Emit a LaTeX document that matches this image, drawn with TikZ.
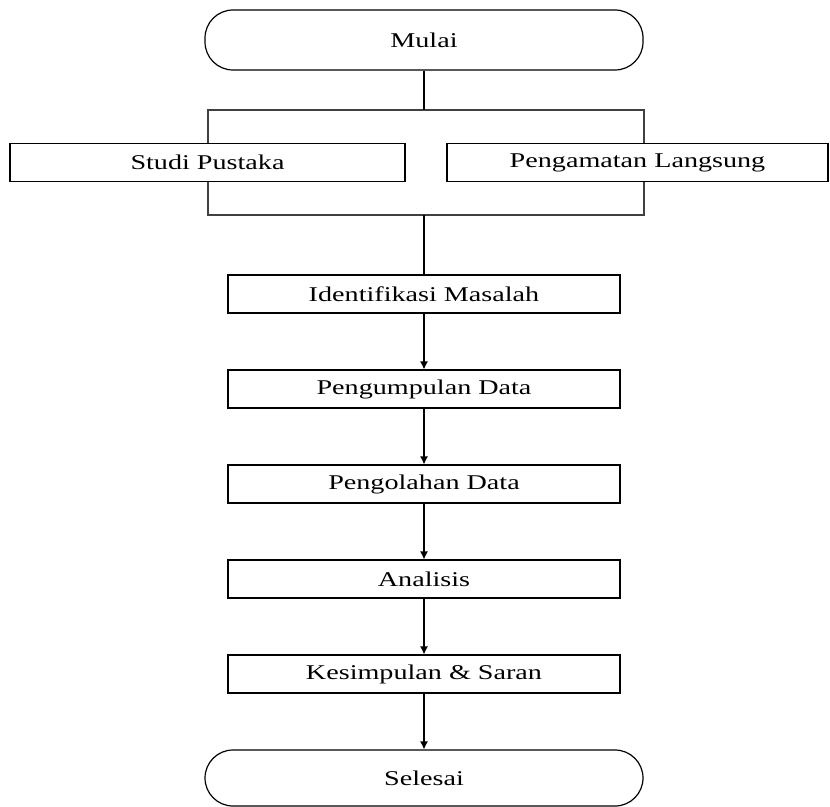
\documentclass[tikz,border=0pt]{standalone}
\usepackage{fontspec}
\setmainfont{Liberation Serif}
\usepackage{graphicx}
\usetikzlibrary{positioning,
                arrows.meta}                % arrow tips

\newcommand{\wide}[1]{\scalebox{1.34}[1]{#1}}

\tikzset{
    langkah/.style={draw, fill=white, line width=0.9pt, minimum height=28.5pt,
                    inner sep=0pt, font=\fontsize{15.75pt}{18pt}\selectfont},
    terminal/.style={langkah, rounded corners=21pt, minimum width=328.5pt},
    alur/.style={line width=0.9pt, -{Latex[length=6pt, width=6pt]}}
}

\begin{document}
\begin{tikzpicture}[x=0.75pt, y=-0.75pt]
        \useasboundingbox (0,0) rectangle (830,806);

        \node[terminal, minimum height=45pt] (mulai) at (424,40) {\wide{Mulai}};

        % bingkai studi pendahuluan
        \coordinate (fnw) at (208,110);
        \coordinate (fse) at (644,215);
        \draw[black!75, line width=0.9pt] (fnw) rectangle (fse);
        \coordinate (ftop) at (424,110);
        \coordinate (fbot) at (424,215);

        \node[langkah, minimum width=296.25pt] (studi) at (207.5,162.5) {\wide{Studi Pustaka}};
        \node[langkah, minimum width=285.75pt] (amati) at (637.5,162.5) {\wide{Pengamatan Langsung}};

        \node[langkah, minimum width=294pt] (ident) at (424,294) {\wide{Identifikasi Masalah}};
        \node[langkah, minimum width=294pt] (kumpul) at (424,389) {\wide{Pengumpulan Data}};
        \node[langkah, minimum width=294pt] (olah) at (424,484) {\wide{Pengolahan Data}};
        \node[langkah, minimum width=294pt] (analisis) at (424,579) {\wide{Analisis}};
        \node[langkah, minimum width=294pt] (simpul) at (424,674) {\wide{Kesimpulan \& Saran}};

        \node[terminal, minimum height=42pt] (selesai) at (424,778) {\wide{Selesai}};

        \draw[line width=0.9pt] (mulai) -- (ftop);
        \draw[line width=0.9pt] (fbot) -- (ident);
        \draw[alur] (ident) -- (kumpul);
        \draw[alur] (kumpul) -- (olah);
        \draw[alur] (olah) -- (analisis);
        \draw[alur] (analisis) -- (simpul);
        \draw[alur] (simpul) -- (selesai);

    \end{tikzpicture}
\end{document}
